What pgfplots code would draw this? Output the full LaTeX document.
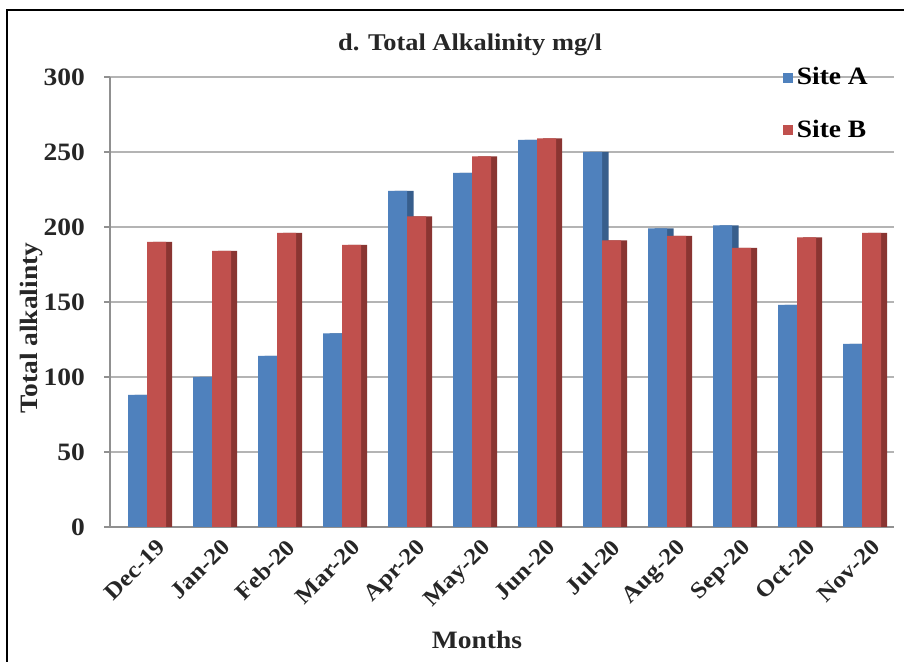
\documentclass[border=0pt]{standalone}
\usepackage{fontspec}
\setmainfont{Liberation Serif}[FakeStretch=1.1]
\usepackage{pgfplots}
\pgfplotsset{compat=1.18}

\definecolor{siteA}{HTML}{4F81BD}
\definecolor{siteAdark}{HTML}{375E8C}
\definecolor{siteB}{HTML}{C0504D}
\definecolor{siteBdark}{HTML}{8A3532}
\definecolor{gridgray}{HTML}{B4B4B4}

% Monthly total alkalinity (mg/l)
\pgfplotstableread{
x  A    B
0  88   190
1  100  184
2  114  196
3  129  188
4  224  207
5  236  247
6  258  259
7  250  191
8  199  194
9  201  186
10 148  193
11 122  196
}\alkdata

\begin{document}
\begin{tikzpicture}[x=1pt,y=1pt]
\useasboundingbox (0,0) rectangle (452,331);
% outer frame
\draw[black, line width=0.8pt] (3.5,0) -- (3.5,326) -- (452,326);

\begin{axis}[
  at={(55pt,67.5pt)}, anchor=south west,
  scale only axis, width=392pt, height=225pt,
  xmin=-0.57, xmax=11.49, ymin=0, ymax=300,
  ytick={0,50,...,300},
  xtick={0,...,11},
  xticklabels={Dec-19,Jan-20,Feb-20,Mar-20,Apr-20,May-20,Jun-20,Jul-20,Aug-20,Sep-20,Oct-20,Nov-20},
  axis x line=bottom, axis y line=left,
  axis line style={draw=gridgray!80!black, line width=0.8pt, -},
  ymajorgrids, grid style={gridgray, line width=0.8pt},
  xtick style={draw=none},
  ytick style={draw=gridgray!80!black, line width=0.8pt},
  tick align=outside, major tick length=3pt,
  /pgf/number format/assume math mode=true,
  tick label style={font=\fontsize{12.5}{14}\selectfont\bfseries, text=black!85},
  yticklabel style={anchor=east, xshift=-6pt},
  xticklabel style={font=\fontsize{11.5}{13}\selectfont\bfseries, rotate=45, anchor=north east, inner sep=0.5pt, yshift=-4pt, xshift=2pt},
  ybar, bar width=9.5pt,
  legend style={at={(0.85,1.04)}, anchor=north west, draw=none, fill=none,
    font=\fontsize{12.5}{14}\selectfont\bfseries, row sep=12pt,
    /tikz/every even column/.append style={column sep=2pt}},
  legend cell align=left,
  clip=false,
]
% darker side faces
\addplot[forget plot, fill=siteAdark, draw=none, bar shift=-1.5pt] table[x=x,y=A]{\alkdata};
\addplot[fill=siteA, draw=none, bar shift=-4.75pt,
  area legend, legend image code/.code={\fill[siteA] (0pt,-2.5pt) rectangle (5pt,2.5pt);}]
  table[x=x,y=A]{\alkdata};
\addplot[forget plot, fill=siteBdark, draw=none, bar shift=7.75pt] table[x=x,y=B]{\alkdata};
\addplot[fill=siteB, draw=none, bar shift=4.75pt,
  area legend, legend image code/.code={\fill[siteB] (0pt,-2.5pt) rectangle (5pt,2.5pt);}]
  table[x=x,y=B]{\alkdata};
\legend{Site A, Site B}
\end{axis}

\node[font=\fontsize{12}{14}\selectfont\bfseries, text=black!85] at (235,308.5) {d. Total Alkalinity mg/l};
\node[font=\fontsize{12.5}{14}\selectfont\bfseries, text=black!85, rotate=90] at (16,167) {Total alkalinty};
\node[font=\fontsize{12.5}{14}\selectfont\bfseries, text=black!85] at (238.5,11) {Months};
\end{tikzpicture}
\end{document}
